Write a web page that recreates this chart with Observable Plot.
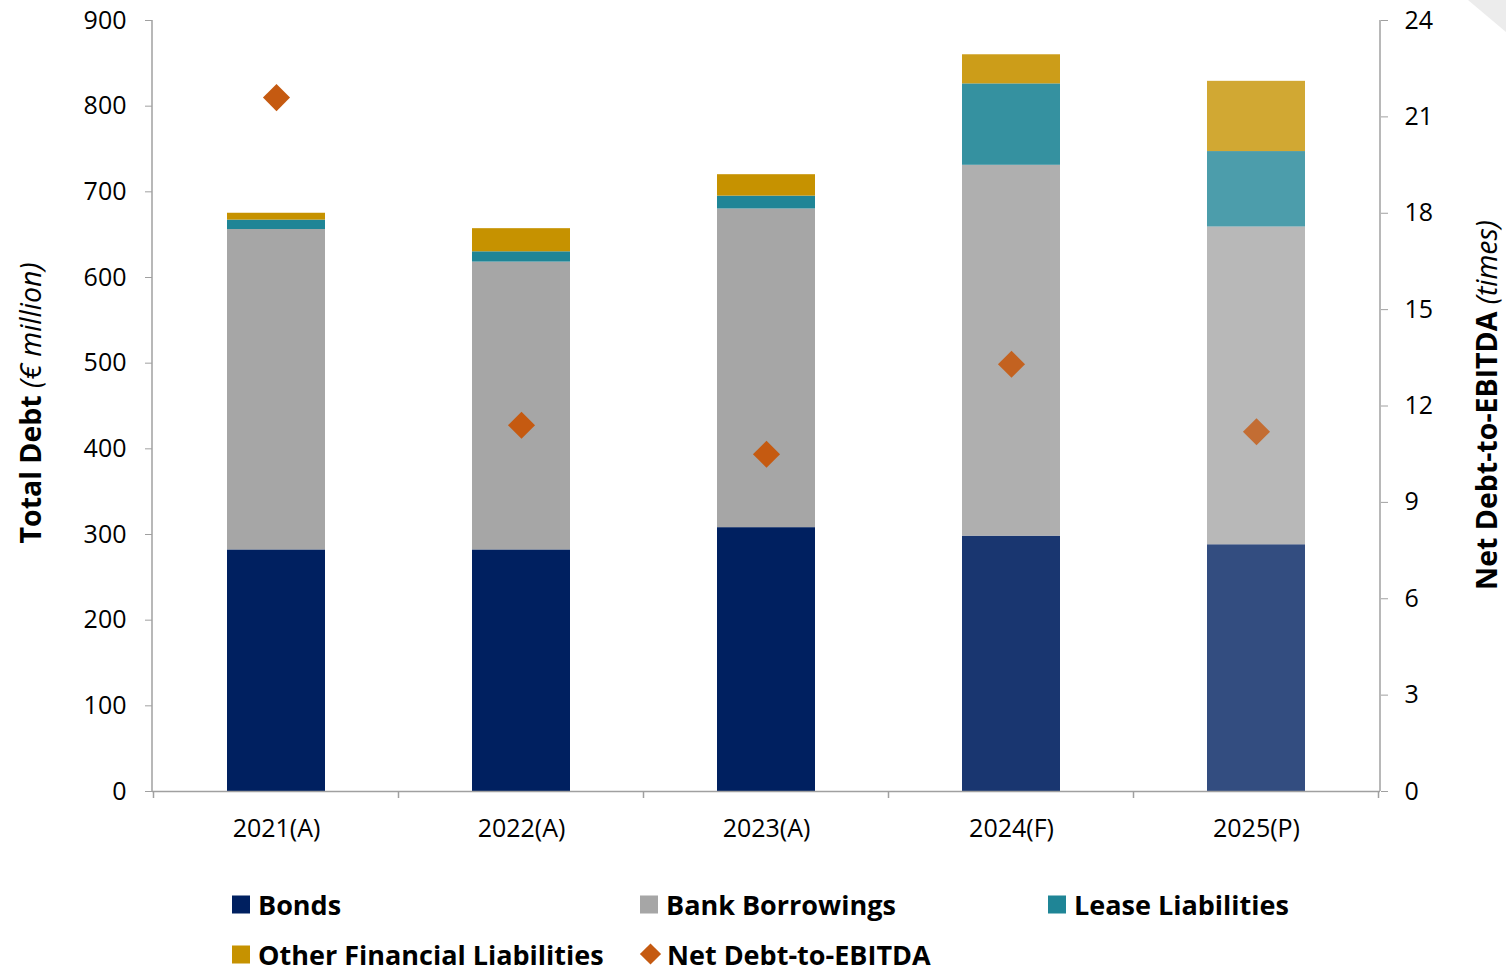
<!DOCTYPE html>
<html>
<head>
<meta charset="utf-8">
<script src="https://cdn.jsdelivr.net/npm/d3@7"></script>
<script src="https://cdn.jsdelivr.net/npm/@observablehq/plot@0.6"></script>
<style>
  html, body { margin: 0; padding: 0; background: #fff; }
  #wrap { position: relative; width: 1506px; height: 972px; font-family: "Open Sans", sans-serif; overflow: hidden; }
  #chart { position: absolute; left: 0; top: 0; }
  .legend-item { position: absolute; display: flex; align-items: center; font-weight: 700; font-size: 27px; line-height: 1; color: #000; white-space: nowrap; transform: translateY(-50%); }
  .swatch { width: 18px; height: 18px; margin-right: 8px; }
  .diamond { width: 15px; height: 15px; transform: rotate(45deg); margin: 0 9px 0 3px; }
  #curl { position: absolute; right: 0; top: 0; width: 0; height: 0; border-top: 32px solid #ececec; border-left: 38px solid transparent; }
</style>
</head>
<body>
<div id="wrap">
  <div id="chart"></div>
  <div id="legend"></div>
  <div id="curl"></div>
</div>
<script>
// Debt composition (€ million) and leverage ratio by reporting year
const years = ["2021(A)", "2022(A)", "2023(A)", "2024(F)", "2025(P)"];
const bonds = [282, 282, 308, 298, 288];
const bankBorrowings = [374, 336, 372, 433, 371];
const leaseLiabilities = [11, 12, 15, 95, 88];
const otherLiabilities = [8, 27, 25, 34, 82];
const netDebtToEbitda = [21.6, 11.4, 10.5, 13.3, 11.2];

const seriesNames = ["Bonds", "Bank Borrowings", "Lease Liabilities", "Other Financial Liabilities"];
const seriesColors = ["#002060", "#a6a6a6", "#1f8596", "#c69200"];
const diamondColor = "#c55a11";

// Actual figures are solid; forecast and projection are drawn progressively lighter
const statusOpacity = {A: 1, F: 0.9, P: 0.8};
const opacityOf = (year) => statusOpacity[year.match(/\((\w)\)/)[1]];

// Right-hand axis (times) shares the left scale: 24x maps to 900
const leftMax = 900, rightMax = 24, k = leftMax / rightMax;

const seriesValues = [bonds, bankBorrowings, leaseLiabilities, otherLiabilities];
const rows = [];
years.forEach((year, i) => {
  seriesNames.forEach((name, s) => rows.push({year, series: name, value: seriesValues[s][i]}));
});
const ratios = years.map((year, i) => ({year, ratio: netDebtToEbitda[i]}));

const axisGray = "#a0a0a0";

// Axis lines and category-boundary ticks on the baseline
function frameLines(index, scales, values, dimensions) {
  const {width, height, marginLeft, marginRight, marginTop, marginBottom} = dimensions;
  const g = d3.create("svg:g").attr("stroke", axisGray).attr("stroke-width", 1.5).attr("fill", "none");
  const y0 = height - marginBottom;
  g.append("line").attr("x1", marginLeft).attr("x2", marginLeft).attr("y1", marginTop).attr("y2", y0);
  g.append("line").attr("x1", width - marginRight).attr("x2", width - marginRight).attr("y1", marginTop).attr("y2", y0);
  const x = scales.x;
  const step = x.step(), bw = x.bandwidth();
  const start = x(years[0]) - (step - bw) / 2;
  d3.range(years.length + 1).forEach(i => {
    const px = start + i * step;
    g.append("line").attr("x1", px).attr("x2", px).attr("y1", y0).attr("y2", y0 + 7);
  });
  return g.node();
}

const plot = Plot.plot({
  width: 1506,
  height: 850,
  marginLeft: 152,
  marginRight: 126,
  marginTop: 20,
  marginBottom: 59,
  style: {fontFamily: "Open Sans, sans-serif", fontSize: "25px", color: "#000", background: "#fff"},
  x: {domain: years, paddingInner: 0.6, paddingOuter: 0.3, label: null},
  y: {domain: [0, leftMax], label: null},
  color: {domain: seriesNames, range: seriesColors},
  marks: [
    Plot.barY(rows, Plot.stackY({
      x: "year",
      y: "value",
      fill: "series",
      fillOpacity: d => opacityOf(d.year)
    })),
    Plot.ruleY([0], {stroke: axisGray, strokeWidth: 1.5}),
    frameLines,
    Plot.dot(ratios, {
      x: "year",
      y: d => d.ratio * k,
      symbol: "diamond2",
      r: 12.2,
      fill: diamondColor,
      fillOpacity: d => opacityOf(d.year),
      stroke: null
    }),
    Plot.axisX({tickSize: 0, tickPadding: 28, fill: "#000"}),
    Plot.axisY({ticks: d3.range(0, leftMax + 1, 100), tickSize: 7, tickPadding: 19, stroke: axisGray, fill: "#000", label: null}),
    Plot.axisY(d3.range(0, rightMax + 1, 3).map(v => v * k), {
      anchor: "right",
      tickFormat: d => Math.round(d / k),
      tickSize: 7, tickPadding: 17, stroke: axisGray, fill: "#000", label: null
    })
  ]
});

// Axis titles with a bold name and an italic unit
const svg = d3.select(plot);
function axisTitle(x, y, name, unit) {
  const t = svg.append("text")
    .attr("transform", `translate(${x},${y}) rotate(-90)`)
    .attr("text-anchor", "middle")
    .attr("dominant-baseline", "central")
    .attr("font-family", "Open Sans, sans-serif")
    .attr("font-size", 28.5)
    .attr("fill", "#000");
  t.append("tspan").attr("font-weight", 700).text(name + " ");
  t.append("tspan").attr("font-style", "italic").text(unit);
}
axisTitle(30, 403, "Total Debt", "(€ million)");
axisTitle(1486, 405, "Net Debt-to-EBITDA", "(times)");

document.getElementById("chart").appendChild(plot);

// Legend beneath the plot
const legendItems = [
  {label: "Bonds", color: seriesColors[0], kind: "square", col: 0, row: 0},
  {label: "Bank Borrowings", color: seriesColors[1], kind: "square", col: 1, row: 0},
  {label: "Lease Liabilities", color: seriesColors[2], kind: "square", col: 2, row: 0},
  {label: "Other Financial Liabilities", color: seriesColors[3], kind: "square", col: 0, row: 1},
  {label: "Net Debt-to-EBITDA", color: diamondColor, kind: "diamond", col: 1, row: 1}
];
const legend = d3.select("#legend");
legendItems.forEach(item => {
  const el = legend.append("div").attr("class", "legend-item")
    .style("left", (232 + item.col * 408) + "px")
    .style("top", (904 + item.row * 50) + "px");
  el.append("div").attr("class", item.kind === "square" ? "swatch" : "diamond").style("background", item.color);
  el.append("span").text(item.label);
});
</script>
</body>
</html>
